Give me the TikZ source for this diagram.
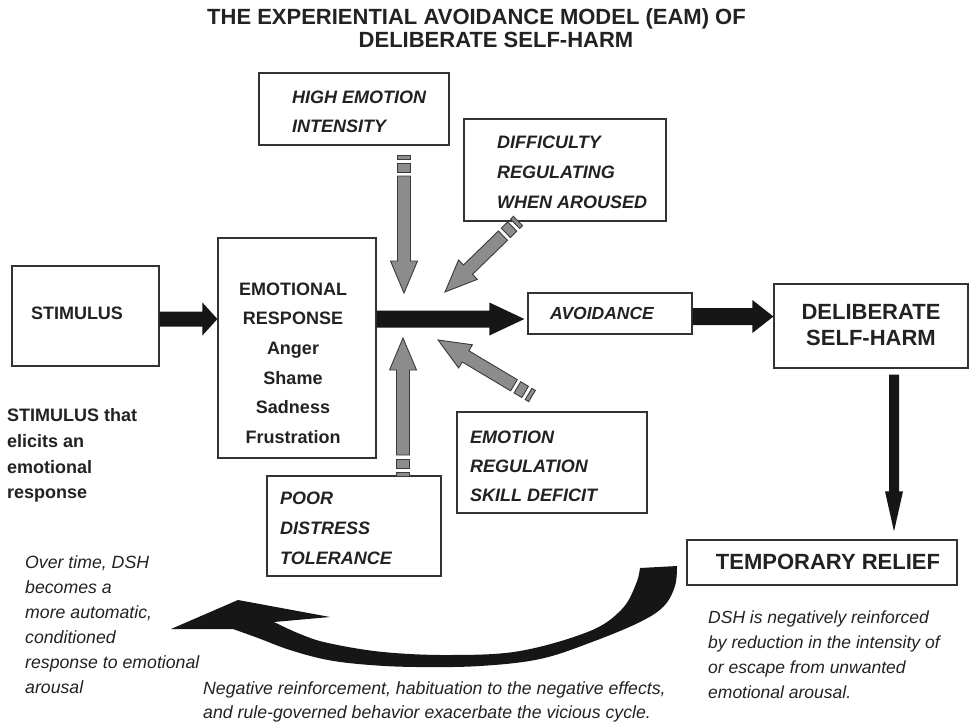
\documentclass[tikz,border=0pt]{standalone}
\usepackage{fontspec}
\setmainfont{Liberation Sans}
\usetikzlibrary{calc}
\definecolor{boxline}{HTML}{333333}
\definecolor{grayfill}{HTML}{8C8C8C}
\definecolor{grayline}{HTML}{3A3A3A}
\definecolor{txtcol}{HTML}{222222}
\definecolor{blk}{HTML}{161616}
% horizontal block arrow: start, end, shaft half width, head length, head half width
\newcommand\eamHarrow[5]{%
  \fill[blk] ($(#1)+(0,-#3)$) -- ($(#2)+(-#4,-#3)$) -- ($(#2)+(-#4,-#5)$) -- (#2)
    -- ($(#2)+(-#4,#5)$) -- ($(#2)+(-#4,#3)$) -- ($(#1)+(0,#3)$) -- cycle;}
% vertical (downward) block arrow
\newcommand\eamVarrow[5]{%
  \fill[blk] ($(#1)+(-#3,0)$) -- ($(#2)+(-#3,-#4)$) -- ($(#2)+(-#5,-#4)$) -- (#2)
    -- ($(#2)+(#5,-#4)$) -- ($(#2)+(#3,-#4)$) -- ($(#1)+(#3,0)$) -- cycle;}
\tikzset{
  box/.style={draw=boxline, line width=1.2pt, fill=white, inner sep=0pt, rectangle},
  lab/.style={inner sep=0pt, text=txtcol},
  garrow/.style={fill=grayfill, draw=grayline, line width=0.9pt, line join=miter},
  pics/grayarrow/.style={code={
    \filldraw[garrow] (0,-6.5) rectangle (4,6.5);
    \filldraw[garrow] (8,-6.5) rectangle (17,6.5);
    \filldraw[garrow] (21,-6.5) -- ({#1-32},-6.5) -- ({#1-32},-13.5) -- (#1,0)
      -- ({#1-32},13.5) -- ({#1-32},6.5) -- (21,6.5) -- cycle;
  }},
}
\begin{document}
\begin{tikzpicture}[x=1pt,y=-1pt]
\fill[white] (0,0) rectangle (977,723);
\useasboundingbox (0,0) rectangle (977,723);

% title
\node[lab, anchor=base, font=\fontsize{22}{23}\selectfont\bfseries] (title1) at (476.5,24.4) {THE EXPERIENTIAL AVOIDANCE MODEL (EAM) OF};
\node[lab, anchor=base, font=\fontsize{22}{23}\selectfont\bfseries] (title2) at (496,47.9) {DELIBERATE SELF-HARM};

% boxes
\node[box, minimum width=190pt, minimum height=72pt] (hi) at (354,109) {};
\node[box, minimum width=202pt, minimum height=102pt] (diff) at (565,170) {};
\node[box, minimum width=147pt, minimum height=100pt] (stim) at (85.5,316) {};
\node[box, minimum width=158pt, minimum height=220pt] (er) at (297,348) {};
\node[box, minimum width=164pt, minimum height=41pt] (avoid) at (610,313.5) {};
\node[box, minimum width=194pt, minimum height=84pt] (dsh) at (871,326) {};
\node[box, minimum width=190pt, minimum height=101pt] (reg) at (552,462.5) {};
\node[box, minimum width=174pt, minimum height=100pt] (poor) at (354,526) {};
\node[box, minimum width=270pt, minimum height=45pt] (tr) at (822,562.5) {};

% box texts
\node[lab, anchor=north west, align=left, font=\fontsize{18}{29}\selectfont\bfseries\itshape] (hiT) at (292,90.6) {HIGH EMOTION\\INTENSITY};
\node[lab, anchor=north west, align=left, font=\fontsize{18}{30}\selectfont\bfseries\itshape] (diffT) at (497,135.6) {DIFFICULTY\\REGULATING\\WHEN AROUSED};
\node[lab, anchor=base, font=\fontsize{18}{22}\selectfont\bfseries] (stimT) at (77,319.4) {STIMULUS};
\node[lab, anchor=north, align=center, font=\fontsize{18}{29.6}\selectfont\bfseries] (erT) at (293,282.6) {EMOTIONAL\\RESPONSE\\Anger\\Shame\\Sadness\\Frustration};
\node[lab, anchor=base west, font=\fontsize{17.5}{22}\selectfont\bfseries\itshape] (avoidT) at (550,319.8) {AVOIDANCE};
\node[lab, anchor=north, align=center, font=\fontsize{22}{26}\selectfont\bfseries] (dshT) at (871,304.1) {DELIBERATE\\SELF-HARM};
\node[lab, anchor=north west, align=left, font=\fontsize{18}{29}\selectfont\bfseries\itshape] (regT) at (470,430.6) {EMOTION\\REGULATION\\SKILL DEFICIT};
\node[lab, anchor=north west, align=left, font=\fontsize{18}{30}\selectfont\bfseries\itshape] (poorT) at (280,491.6) {POOR\\DISTRESS\\TOLERANCE};
\node[lab, anchor=base, font=\fontsize{22}{26}\selectfont\bfseries] (trT) at (828,569.9) {TEMPORARY RELIEF};

% annotations
\node[lab, anchor=north west, align=left, font=\fontsize{18}{25.7}\selectfont\bfseries] (stimNote) at (7,408.6) {STIMULUS that\\elicits an\\emotional\\response};
\node[lab, anchor=north west, align=left, font=\fontsize{17.7}{25}\selectfont\itshape] (overNote) at (25,555.7) {Over time, DSH\\becomes a\\more automatic,\\conditioned\\response to emotional\\arousal};
\node[lab, anchor=north west, align=left, font=\fontsize{17.5}{25}\selectfont\itshape] (dshNote) at (708,610.7) {DSH is negatively reinforced\\by reduction in the intensity of\\or escape from unwanted\\emotional arousal.};
\node[lab, anchor=north west, align=left, font=\fontsize{17.7}{24}\selectfont\itshape] (negNote) at (203,681.7) {Negative reinforcement, habituation to the negative effects,\\and rule-governed behavior exacerbate the vicious cycle.};

% black arrows
\coordinate (hub) at (403,319);
\coordinate (a1) at (stim.east |- hub);
\coordinate (a2) at (er.west |- hub);
\eamHarrow{a1}{a2}{7.5}{15}{16.5}
\coordinate (b1) at (er.east |- hub);
\coordinate (b2) at ($(avoid.west |- hub)+(-3,0)$);
\eamHarrow{b1}{b2}{8.5}{35}{16.5}
\coordinate (c1) at ($(avoid.east)+(0,3)$);
\coordinate (c2) at (dsh.west |- c1);
\eamHarrow{c1}{c2}{8.5}{21}{16.5}
\coordinate (d1) at ($(dsh.south)+(23,6)$);
\coordinate (d2) at ($(tr.north -| d1)+(0,-8)$);
\eamVarrow{d1}{d2}{5}{40}{9}

% gray influence arrows
\coordinate (hiTail) at (404,155);
\pic[rotate=-90] at (hiTail) {grayarrow=138};
\coordinate (diffTail) at (518,221);
\pic[rotate=-135.8] at (diffTail) {grayarrow=101.8};
\coordinate (regTail) at (532,396);
\pic[rotate=149.2] at (regTail) {grayarrow=109.4};
\coordinate (poorTail) at (403,476);
\pic[rotate=90] at (poorTail) {grayarrow=138};

% curved feedback arrow
\fill[blk] (233,629) -- (171,629) -- (238,600) -- (330,617) -- (274,622)
  -- plot[smooth, tension=0.6] coordinates {(274,622) (300,634) (328,643) (383,652) (450,655) (520,651) (590,631) (622,609) (636,584) (640,568)}
  -- (677,566)
  -- plot[smooth, tension=0.6] coordinates {(677,566) (675,586) (664,606) (640,622) (592,642) (540,659) (480,666) (417,667) (370,665) (328,660) (290,650) (258,638) (233,629)}
  -- cycle;
\end{tikzpicture}
\end{document}
